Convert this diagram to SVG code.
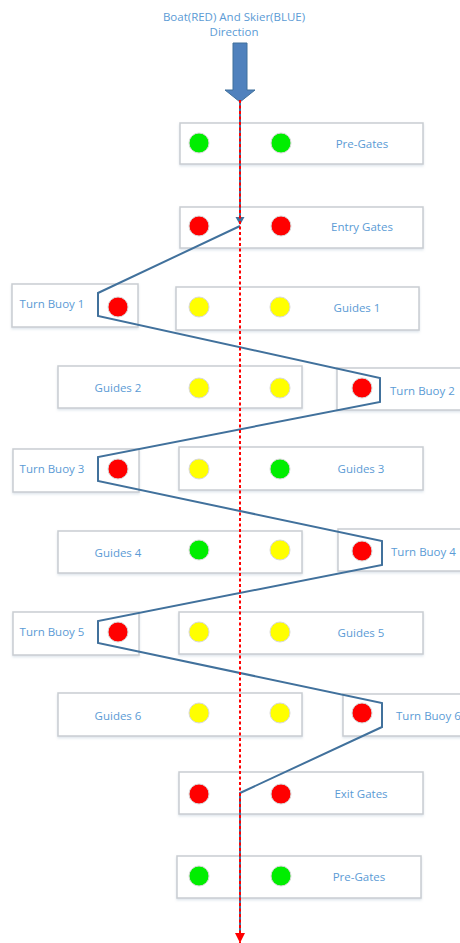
<svg xmlns="http://www.w3.org/2000/svg" width="460" height="943" viewBox="0 0 460 943">
  <style>
    .box { fill: #ffffff; stroke: #c9cdd2; stroke-width: 1.5; filter: url(#shadow); }
    .lbl { font-family: "Open Sans", "Liberation Sans", sans-serif; font-size: 11.5px; fill: #5b9bd5; dominant-baseline: central; }
    .mid { text-anchor: middle; }
    .buoy { stroke: #d8d8d8; stroke-width: 1; }
    .red { fill: #ff0000; }
    .green { fill: #00ee00; }
    .yellow { fill: #ffff00; }
    .skier { fill: none; stroke: #41719c; stroke-width: 2; stroke-linejoin: miter; }
    .boat { fill: none; stroke: #ff0000; stroke-width: 2; stroke-dasharray: 3 2.5; }
  </style>
  <defs>
    <filter id="shadow" x="-5%" y="-20%" width="110%" height="150%">
      <feDropShadow dx="0" dy="1.5" stdDeviation="1.2" flood-color="#9fb3c8" flood-opacity="0.35"/>
    </filter>
    <marker id="boatHead" viewBox="0 0 10 10" refX="10" refY="5" markerWidth="10" markerHeight="10" markerUnits="userSpaceOnUse" orient="auto">
      <path d="M0,0 L10,5 L0,10 Z" fill="#ff0000"/>
    </marker>
  </defs>

  <!-- heading and direction arrow -->
  <g id="heading">
    <text class="lbl mid" x="234" y="16">Boat(RED) And Skier(BLUE)</text>
    <text class="lbl mid" x="234" y="31">Direction</text>
    <path d="M233,43 H247 V90 H255 L240,102 L225,90 H233 Z" fill="#4f81bd" stroke="#41719c" stroke-width="1"/>
  </g>

  <!-- gate and buoy rows -->
  <g id="pre-gates-top">
    <rect class="box" x="180" y="123" width="243" height="41"/>
    <circle class="buoy green" cx="199" cy="143" r="10"/>
    <circle class="buoy green" cx="281" cy="143" r="10"/>
    <text class="lbl mid" x="362" y="143">Pre-Gates</text>
  </g>
  <g id="entry-gates">
    <rect class="box" x="180" y="207" width="243" height="41"/>
    <circle class="buoy red" cx="199" cy="226" r="10"/>
    <circle class="buoy red" cx="281" cy="226" r="10"/>
    <text class="lbl mid" x="362" y="226">Entry Gates</text>
  </g>
  <g id="turn-buoy-1">
    <rect class="box" x="12" y="284" width="126" height="43"/>
    <circle class="buoy red" cx="118" cy="307" r="10"/>
    <text class="lbl mid" x="52" y="303">Turn Buoy 1</text>
  </g>
  <g id="guides-1">
    <rect class="box" x="176" y="287" width="243" height="43"/>
    <circle class="buoy yellow" cx="199" cy="307" r="10"/>
    <circle class="buoy yellow" cx="280" cy="307" r="10"/>
    <text class="lbl mid" x="357" y="307">Guides 1</text>
  </g>
  <g id="guides-2">
    <rect class="box" x="58" y="366" width="244" height="42"/>
    <circle class="buoy yellow" cx="199" cy="388" r="10"/>
    <circle class="buoy yellow" cx="280" cy="388" r="10"/>
    <text class="lbl mid" x="118" y="387">Guides 2</text>
  </g>
  <g id="turn-buoy-2">
    <rect class="box" x="337" y="368" width="130" height="42"/>
    <circle class="buoy red" cx="362" cy="388" r="10"/>
    <text class="lbl" x="390" y="390">Turn Buoy 2</text>
  </g>
  <g id="turn-buoy-3">
    <rect class="box" x="13" y="449" width="126" height="43"/>
    <circle class="buoy red" cx="118" cy="469" r="10"/>
    <text class="lbl mid" x="52" y="468">Turn Buoy 3</text>
  </g>
  <g id="guides-3">
    <rect class="box" x="179" y="447" width="244" height="43"/>
    <circle class="buoy yellow" cx="199" cy="469" r="10"/>
    <circle class="buoy green" cx="280" cy="469" r="10"/>
    <text class="lbl mid" x="361" y="468">Guides 3</text>
  </g>
  <g id="guides-4">
    <rect class="box" x="58" y="531" width="244" height="42"/>
    <circle class="buoy green" cx="199" cy="550" r="10"/>
    <circle class="buoy yellow" cx="280" cy="550" r="10"/>
    <text class="lbl mid" x="118" y="552">Guides 4</text>
  </g>
  <g id="turn-buoy-4">
    <rect class="box" x="338" y="529" width="130" height="42"/>
    <circle class="buoy red" cx="362" cy="551" r="10"/>
    <text class="lbl" x="391" y="551">Turn Buoy 4</text>
  </g>
  <g id="turn-buoy-5">
    <rect class="box" x="13" y="612" width="126" height="43"/>
    <circle class="buoy red" cx="118" cy="632" r="10"/>
    <text class="lbl mid" x="52" y="631">Turn Buoy 5</text>
  </g>
  <g id="guides-5">
    <rect class="box" x="179" y="612" width="244" height="42"/>
    <circle class="buoy yellow" cx="199" cy="632" r="10"/>
    <circle class="buoy yellow" cx="280" cy="632" r="10"/>
    <text class="lbl mid" x="361" y="632">Guides 5</text>
  </g>
  <g id="guides-6">
    <rect class="box" x="58" y="693" width="244" height="43"/>
    <circle class="buoy yellow" cx="199" cy="713" r="10"/>
    <circle class="buoy yellow" cx="280" cy="713" r="10"/>
    <text class="lbl mid" x="118" y="715">Guides 6</text>
  </g>
  <g id="turn-buoy-6">
    <rect class="box" x="343" y="694" width="130" height="42"/>
    <circle class="buoy red" cx="362" cy="713" r="10"/>
    <text class="lbl" x="396" y="715">Turn Buoy 6</text>
  </g>
  <g id="exit-gates">
    <rect class="box" x="179" y="772" width="244" height="42"/>
    <circle class="buoy red" cx="199" cy="794" r="10"/>
    <circle class="buoy red" cx="281" cy="794" r="10"/>
    <text class="lbl mid" x="361" y="793">Exit Gates</text>
  </g>
  <g id="pre-gates-bottom">
    <rect class="box" x="177" y="856" width="244" height="42"/>
    <circle class="buoy green" cx="199" cy="876" r="10"/>
    <circle class="buoy green" cx="281" cy="876" r="10"/>
    <text class="lbl mid" x="359" y="876">Pre-Gates</text>
  </g>

  <!-- skier path (blue) and boat path (red dashed) -->
  <g id="connectors">
    <line class="skier" x1="240" y1="100" x2="240" y2="220"/>
    <path d="M235.5,217 L244.5,217 L240,225 Z" fill="#41719c"/>
    <polyline class="skier" points="240,226 98,293 98,316 380,378 380,402 98,457 98,481 382,541 382,565 98,621 98,643 382,703 382,727 240,793 240,934"/>
    <line class="boat" x1="240" y1="100" x2="240" y2="943" marker-end="url(#boatHead)"/>
  </g>
</svg>
